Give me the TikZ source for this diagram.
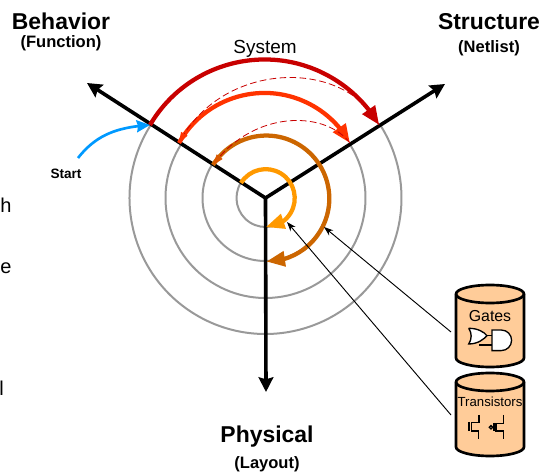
\documentclass[tikz,border=0pt]{standalone}
\usepackage{fontspec}
\setmainfont{Liberation Sans}
\usepackage{xcolor}
\usetikzlibrary{arrows.meta, bending}
\definecolor{sysred}{HTML}{C80000}
\definecolor{modred}{HTML}{FF3300}
\definecolor{rtlbrown}{HTML}{CC6600}
\definecolor{cellorange}{HTML}{FF9900}
\definecolor{startblue}{HTML}{0099FF}
\definecolor{dbtan}{HTML}{FFCC99}
\tikzset{
  axisline/.style={black, line width=2.7pt, -{Stealth[length=11pt,width=11pt,inset=1.5pt]}},
  level/.style={line width=3.2pt, -{Triangle[length=14pt,width=11pt]}},
  backstep/.style={sysred, line width=0.6pt, dash pattern=on 5pt off 2.5pt},
  pointer/.style={black, line width=0.7pt, -{Stealth[length=7pt,width=5pt]}},
  titlebig/.style={font=\fontsize{17.2}{20}\selectfont\bfseries},
  titlesmall/.style={font=\fontsize{12.4}{15}\selectfont\bfseries},
  dbwall/.style={draw=black, line width=2pt, fill=dbtan},
  symbol/.style={black, line width=1pt},
}

\begin{document}
\begin{tikzpicture}[x=0.75pt, y=0.75pt]
\useasboundingbox (0,0) rectangle (543,475);
\coordinate (center) at (265.5,277);
\coordinate (behtip) at (87,392);
\coordinate (strtip) at (445,391);
\coordinate (phytip) at (266,83);
\coordinate (sysstart) at (150,350);
\coordinate (sysend) at (379,350);
\coordinate (modstart) at (179,332);
\coordinate (modend) at (350,332);
\coordinate (rtlstart) at (213,310);
\coordinate (cellstart) at (241,292);
\coordinate (gatesout) at (451,143);
\coordinate (transout) at (451,60);
\coordinate (gatesin) at (324,248);
\coordinate (transin) at (287,253);
\coordinate (startout) at (78,317);

\foreach \r in {29,63,100,136}{
  \draw[gray!80, line width=1.5pt] (center) ++(147.5:\r) arc[start angle=147.5, end angle=392.5, radius=\r];
}
\draw[axisline] (center) -- (behtip);
\draw[axisline] (center) -- (strtip);
\draw[axisline] (center) -- (phytip);

\draw[level, sysred] (sysstart) arc[start angle=149.5, end angle=30.5, radius=133];
\draw[level, modred] (modstart) arc[start angle=150.7, end angle=29.3, radius=98];
\draw[level, rtlbrown] (rtlstart) arc[start angle=147.8, end angle=-90, radius=63];
\draw[level, cellorange] (cellstart) arc[start angle=148.5, end angle=-90, radius=29];
\draw[startblue, line width=2pt, -{Stealth[length=10pt,width=9pt,inset=1pt]}] (startout) to[out=52, in=184] (sysstart);

\draw[backstep, -{Triangle[length=8pt,width=5.5pt,color=modred,sep=0pt]}] (sysend) .. controls (345,417) and (222,415) .. (modstart);
\draw[backstep, -{Triangle[length=8pt,width=5.5pt,color=rtlbrown!70!modred]}] (modend) .. controls (325,365) and (253,365) .. (rtlstart);

\node[titlebig] (behavior) at (61,454) {Behavior};
\node[titlesmall] (function) at (61,432) {(Function)};
\node[titlebig] (structure) at (489,453) {Structure};
\node[titlesmall] (netlist) at (489,427) {(Netlist)};
\node[titlebig] (physical) at (267,38) {Physical};
\node[titlesmall] (layout) at (267,11) {(Layout)};
\node[font=\fontsize{14.2}{17}\selectfont] (system) at (265,426.5) {System};
\node[font=\fontsize{10.2}{12}\selectfont\bfseries] (startlabel) at (66,301) {Start};
\node[font=\fontsize{15}{18}\selectfont, anchor=west, inner sep=0pt] (lineh) at (0,270) {h};
\node[font=\fontsize{15}{18}\selectfont, anchor=west, inner sep=0pt] (linee) at (0,207) {e};
\node[font=\fontsize{15}{18}\selectfont, anchor=west, inner sep=0pt] (linel) at (-1,87) {l};

\foreach \t/\b in {181/117, 93/28}{
  \draw[dbwall] (456,\t) -- (456,\b) arc[start angle=180, end angle=360, x radius=34, y radius=9]
    -- (524,\t) arc[start angle=0, end angle=180, x radius=34, y radius=9] -- cycle;
  \draw[dbwall, fill=none] (456,\t) arc[start angle=180, end angle=360, x radius=34, y radius=9];
}
\node[font=\fontsize{11.9}{14}\selectfont] (gateslabel) at (490,159) {Gates};
\node[font=\fontsize{9.9}{12}\selectfont] (translabel) at (490,73) {Transistors};
\draw[pointer] (gatesout) -- (gatesin);
\draw[pointer] (transout) -- (transin);

\draw[symbol, fill=white] (468.7,146.7) .. controls (478,146.7) and (484,143) .. (487,139.3)
  .. controls (484,136) and (478,131) .. (468.7,131) .. controls (472,136) and (472,142) .. (468.7,146.7);
\draw[symbol, fill=white] (492,145) -- (501.3,145) arc[start angle=90, end angle=-90, radius=10.3] -- (492,124.4) -- cycle;
\draw[symbol] (487,139.3) -- (492,139.3);
\draw[symbol] (479.3,130) -- (492,130);

\draw[symbol] (479,60) -- (479,52.7) -- (471.7,52.7) -- (471.7,44) -- (478.3,44) -- (478.3,36);
\draw[symbol] (469,53) -- (469,44);
\draw[symbol] (503.3,60) -- (503.3,51.7) -- (496,51.7) -- (496,44) -- (503.3,44) -- (503.3,36);
\draw[symbol] (494,52) -- (494,44);
\draw[symbol] (491,47.7) circle (1.7);
\end{tikzpicture}
\end{document}
